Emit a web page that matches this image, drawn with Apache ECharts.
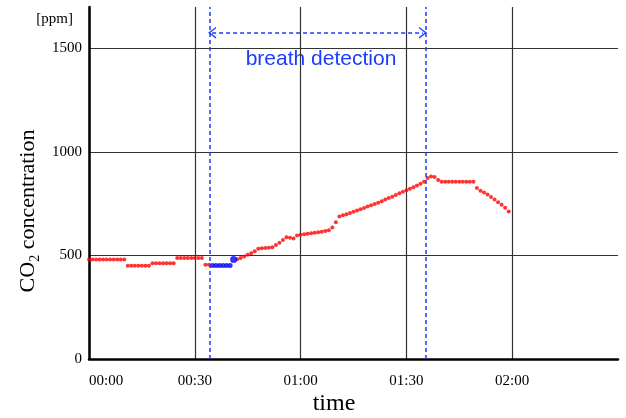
<!DOCTYPE html>
<html>
<head>
<meta charset="utf-8">
<title>CO2 concentration</title>
<script src="https://cdn.jsdelivr.net/npm/echarts@6/dist/echarts.min.js"></script>
<style>
  html, body { margin: 0; padding: 0; background: #fff; }
  #chart { width: 626px; height: 418px; }
</style>
</head>
<body>
<div id="chart"></div>
<script>
// CO2 [ppm], sampled every minute from 00:00 (index = minute); null = blue part
const co2Red = [
  480, 480, 480, 480, 480, 480, 480, 480, 480, 480, 480,
  450, 450, 450, 450, 450, 450, 450,
  463, 463, 463, 463, 463, 463, 463,
  488, 488, 488, 488, 488, 488, 488, 488,
  455, 455,
  null, null, null, null, null, null, null,
  482, 488, 495, 503, 511, 520, 533, 535, 536, 537,
  540, 550, 562, 575, 588, 586, 582, 596, 600, 603,
  605, 607, 610, 612, 615, 618, 622, 635, 660, 688,
  694, 699, 705, 711, 717, 723, 729, 736, 743, 749,
  755, 762, 770, 777, 784, 792, 800, 808, 815, 822,
  830, 838, 846, 856, 874, 881, 879, 864, 856, 856,
  856, 856, 856, 856, 856, 856, 856, 856, 826, 812,
  804, 795, 782, 770, 757, 745, 730, 712
]
// breath detection samples (blue)
const blueTimes = [35, 36, 37, 38, 39, 40, 41]
const blueValues = [452, 452, 452, 452, 452, 452, 480]
// detection window [minutes]
const detectStart = 34.1
const detectEnd = 95.5
const xTicks = [0, 30, 60, 90, 120]

const blue = '#1a3cff'
const serif = 'Liberation Serif'

function fmtTime (m) {
  const h = Math.floor(m / 60)
  const mm = m % 60
  return String(h).padStart(2, '0') + ':' + String(mm).padStart(2, '0')
}

const chart = echarts.init(document.getElementById('chart'))

const redData = co2Red.map((v, i) => [i, v]).filter(d => d[1] !== null)
const blueData = blueTimes.map((t, i) => [t, blueValues[i]])

// chevron head for the arrow (points up, echarts turns it)
const chevron = 'path://M5,0 L10,10 L8.6,10 L5,2.8 L1.4,10 L0,10 Z'

const option = {
  animation: false,
  grid: { left: 89, right: 8, top: 7, bottom: 59 },
  xAxis: {
    type: 'value',
    min: 0,
    max: 150,
    interval: 30,
    axisLine: { lineStyle: { color: '#000', width: 2.5 } },
    axisTick: { show: false },
    axisLabel: {
      color: '#000',
      fontFamily: serif,
      fontSize: 15,
      margin: 15,
      alignMinLabel: 'left',
      formatter: v => (xTicks.indexOf(v) >= 0 ? fmtTime(v) : '')
    },
    splitLine: { show: true, showMaxLine: false, lineStyle: { color: '#333', width: 1.2 } }
  },
  yAxis: {
    type: 'value',
    min: 0,
    max: 1700,
    interval: 500,
    axisLine: { show: true, lineStyle: { color: '#000', width: 2.5 } },
    axisTick: { show: false },
    axisLabel: {
      color: '#000',
      fontFamily: serif,
      fontSize: 15,
      margin: 7,
      formatter: v => (v % 500 === 0 ? String(v) : '')
    },
    splitLine: { show: true, showMaxLine: false, lineStyle: { color: '#333', width: 1.2 } }
  },
  series: [
    {
      type: 'scatter',
      data: redData,
      symbol: 'circle',
      symbolSize: 4,
      itemStyle: { color: '#ff0000' },
      markLine: {
        silent: true,
        symbol: 'none',
        label: { show: false },
        lineStyle: { color: blue, width: 1.5, type: [4, 3] },
        data: [
          { xAxis: detectStart },
          { xAxis: detectEnd },
          [
            { coord: [detectStart + 0.8, 1576], symbol: chevron, symbolSize: [12, 8] },
            { coord: [detectEnd - 0.8, 1576], symbol: chevron, symbolSize: [12, 8] }
          ]
        ]
      }
    },
    {
      type: 'scatter',
      data: blueData,
      symbol: 'circle',
      symbolSize: (v, p) => (p.dataIndex === blueData.length - 1 ? 7 : 5),
      itemStyle: { color: '#0000ff' }
    }
  ],
  graphic: [
    {
      type: 'text', x: 73, y: 19,
      style: { text: '[ppm]', fill: '#000', font: '15px "Liberation Serif"', align: 'right', verticalAlign: 'middle' }
    },
    {
      type: 'text', x: 28, y: 211, rotation: Math.PI / 2,
      style: {
        text: '{a|CO}{b|2}{a| concentration}',
        fill: '#000',
        align: 'center',
        verticalAlign: 'middle',
        rich: {
          a: { fontFamily: serif, fontSize: 22, lineHeight: 28, fill: '#000' },
          b: { fontFamily: serif, fontSize: 14, lineHeight: 14, verticalAlign: 'bottom', fill: '#000' }
        }
      }
    },
    {
      type: 'text', x: 334, y: 404,
      style: { text: 'time', fill: '#000', font: '24px "Liberation Serif"', align: 'center', verticalAlign: 'middle' }
    },
    {
      type: 'text', x: 321, y: 59,
      style: { text: 'breath detection', fill: blue, font: '21px "Liberation Sans"', align: 'center', verticalAlign: 'middle' }
    }
  ]
}

chart.setOption(option)
</script>
</body>
</html>
